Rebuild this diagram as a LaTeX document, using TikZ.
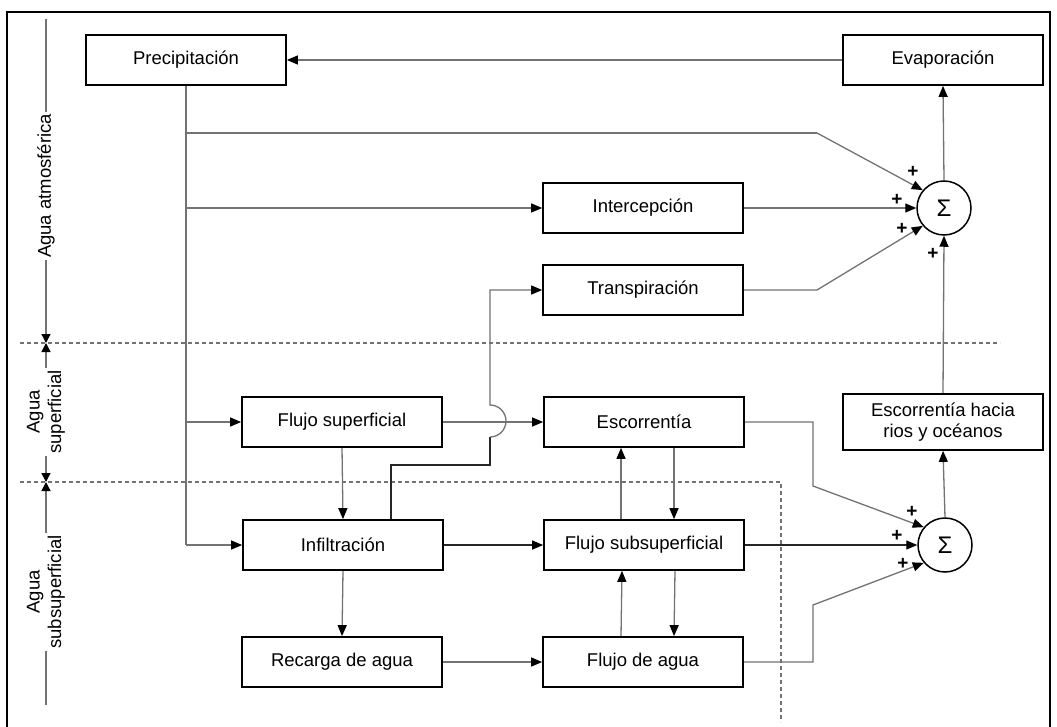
\documentclass[tikz,border=0pt]{standalone}
\usepackage{fontspec}
\setmainfont{Liberation Sans}
\usetikzlibrary{arrows.meta}
\newcommand\fs{\fontsize{18.5}{21.5}\selectfont}
\tikzset{
  blk/.style={draw=black, line width=1.7pt, minimum width=200pt, minimum height=50pt, inner sep=0pt, font=\fs, align=center},
  sumc/.style={draw=black, line width=1.5pt, circle, minimum size=54pt, inner sep=0pt, font=\fontsize{24}{24}\selectfont},
  gline/.style={draw=black!55, line width=1.3pt},
  bline/.style={draw=black!85, line width=1.3pt},
  tip/.style={-{Triangle[length=11pt,width=9pt,color=black]}},
  con/.style={gline, tip},
  bcon/.style={bline, tip},
  plus/.style={font=\fontsize{19}{19}\selectfont\bfseries, inner sep=0pt},
  sep/.style={draw=black!55, line width=1.1pt, dash pattern=on 4pt off 3pt},
  axlab/.style={rotate=90, fill=white, font=\fs, align=center, inner sep=2pt}
}
\begin{document}
\begin{tikzpicture}[x=1pt, y=-1pt]
\useasboundingbox (0,0) rectangle (1057,727);
\fill[white] (0,0) rectangle (1057,727);
% frame
\draw[line width=1.5pt] (7,730) -- (7,12) -- (1050,12) -- (1050,730);
% separators
\draw[sep] (20,343) -- (1000,343);
\draw[sep] (20,482) -- (781,482) -- (781,722);
% left axis
\coordinate (ax0) at (46,19);
\coordinate (ax1) at (46,343);
\coordinate (ax2) at (46,482);
\coordinate (ax3) at (46,705);
\draw[gline, -{Triangle[length=9pt,width=9pt,color=black]}] (ax0) -- (ax1);
\draw[gline, {Triangle[length=9pt,width=9pt,color=black]}-{Triangle[length=9pt,width=9pt,color=black]}] (ax1) -- (ax2);
\draw[gline, {Triangle[length=9pt,width=9pt,color=black]}-] (ax2) -- (ax3);
\node[axlab] (lab1) at (46,186) {Agua atmosférica};
\node[axlab] (lab2) at (46,412) {Agua\\superficial};
\node[axlab] (lab3) at (46,592) {Agua\\subsuperficial};
% boxes
\node[blk] (prec) at (186,60) {Precipitación};
\node[blk] (evap) at (943,60) {Evaporación};
\node[blk] (inter) at (643,208) {Intercepción};
\node[blk] (trans) at (643,290) {Transpiración};
\node[blk] (fsup) at (342,422) {Flujo superficial};
\node[blk] (esc) at (644,422) {Escorrentía};
\node[blk, minimum height=56pt] (esch) at (943,422) {Escorrentía hacia\\rios y océanos};
\node[blk] (infil) at (343,545) {Infiltración};
\node[blk] (fsub) at (644,545) {Flujo subsuperficial};
\node[blk] (rec) at (342,662) {Recarga de agua};
\node[blk] (fagua) at (643,662) {Flujo de agua};
\node[sumc] (s1) at (944,208) {Σ};
\node[sumc] (s2) at (945,545) {Σ};
% corner coordinates
\coordinate (k1) at (817,133);
\coordinate (k2) at (817,290);
\coordinate (k3) at (813,422);
\coordinate (k4) at (813,486);
\coordinate (k5) at (813,662);
\coordinate (k6) at (813,605);
\coordinate (j1) at (391,465);
\coordinate (j2) at (490,465);
\coordinate (j3) at (490,437);
% connectors
\draw[con] (evap.west) -- (prec.east);
\draw[gline] (prec.south) -- (prec.south |- infil.west);
\draw[gline] (prec.south |- k1) -- (k1);
\draw[con] (k1) -- (s1.140);
\draw[con] (prec.south |- inter.west) -- (inter.west);
\draw[con] (prec.south |- fsup.west) -- (fsup.west);
\draw[con] (prec.south |- infil.west) -- (infil.west);
\draw[con] (inter.east) -- (s1.west);
\draw[con] (trans.east) -- (k2) -- (s1.220);
\draw[con] (s1.north) -- (evap.south);
\draw[con] (esch.north) -- (s1.south);
\draw[con] (s2.north) -- (esch.south);
\draw[con] (fsup.east) -- (esc.west);
\draw[con] (fsup.south) -- (infil.north);
\draw[bline] (j1 |- infil.north) -- (j1) -- (j2) -- (j3);
\draw[con] (j3) arc[start angle=-90, end angle=90, radius=16pt] -- (490,290) -- (trans.west);
\draw[bcon] (infil.east) -- (fsub.west);
\draw[con] (infil.south) -- (rec.north);
\draw[con] (rec.east) -- (fagua.west);
\draw[con] ([xshift=-23pt]fsub.north) -- ([xshift=-23pt]esc.south);
\draw[con] ([xshift=30pt]esc.south) -- ([xshift=30pt]fsub.north);
\draw[con] ([xshift=-22pt]fagua.north) -- ([xshift=-22pt]fsub.south);
\draw[con] ([xshift=31pt]fsub.south) -- ([xshift=31pt]fagua.north);
\draw[con] (esc.east) -- (k3) -- (k4) -- (s2.140);
\draw[bcon] (fsub.east) -- (s2.west);
\draw[con] (fagua.east) -- (k5) -- (k6) -- (s2.220);
% signs
\node[plus] (p1) at (913,172) {+};
\node[plus] (p2) at (897,200) {+};
\node[plus] (p3) at (902,229) {+};
\node[plus] (p4) at (933,254) {+};
\node[plus] (p5) at (912,512) {+};
\node[plus] (p6) at (897,536) {+};
\node[plus] (p7) at (903,564) {+};
\end{tikzpicture}
\end{document}
